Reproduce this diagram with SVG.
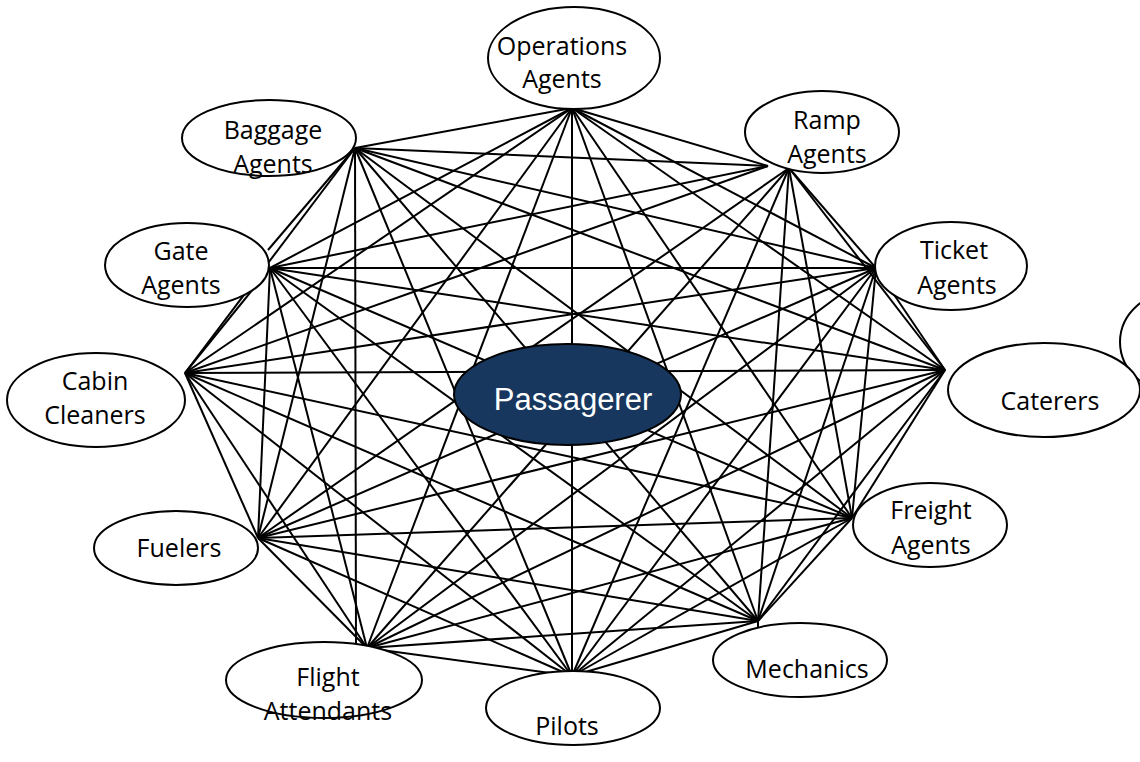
<svg xmlns="http://www.w3.org/2000/svg" width="1140" height="762" viewBox="0 0 1140 762">
<style>
.c line{stroke:#000;stroke-width:2;fill:none}
.n ellipse{fill:#fff;stroke:#000;stroke-width:2}
.n text{font-family:"Open Sans","Liberation Sans",sans-serif;font-size:25px;fill:#000;text-anchor:middle}
#passagerer ellipse{fill:#17375e;stroke:#000;stroke-width:2}
#passagerer text{font-family:"Liberation Sans",Arial,sans-serif;font-size:31px;fill:#fff;text-anchor:middle}
</style>
<rect width="1140" height="762" fill="#fff"/>
<g id="connectors" class="c">
<line x1="572" y1="108" x2="768" y2="166"/>
<line x1="572" y1="108" x2="876" y2="268"/>
<line x1="572" y1="108" x2="945" y2="370"/>
<line x1="572" y1="108" x2="852" y2="518"/>
<line x1="572" y1="108" x2="758" y2="621"/>
<line x1="572" y1="108" x2="572" y2="676"/>
<line x1="572" y1="108" x2="367" y2="648"/>
<line x1="572" y1="108" x2="258" y2="538"/>
<line x1="572" y1="108" x2="185" y2="373"/>
<line x1="572" y1="108" x2="270" y2="268"/>
<line x1="572" y1="108" x2="355" y2="148"/>
<line x1="789" y1="168" x2="876" y2="268"/>
<line x1="789" y1="168" x2="945" y2="370"/>
<line x1="789" y1="168" x2="852" y2="518"/>
<line x1="789" y1="168" x2="758" y2="621"/>
<line x1="789" y1="168" x2="572" y2="676"/>
<line x1="789" y1="168" x2="367" y2="648"/>
<line x1="789" y1="168" x2="258" y2="538"/>
<line x1="768" y1="166" x2="185" y2="373"/>
<line x1="768" y1="166" x2="270" y2="268"/>
<line x1="768" y1="166" x2="355" y2="148"/>
<line x1="876" y1="268" x2="945" y2="370"/>
<line x1="876" y1="268" x2="852" y2="518"/>
<line x1="876" y1="268" x2="758" y2="621"/>
<line x1="876" y1="268" x2="572" y2="676"/>
<line x1="876" y1="268" x2="367" y2="648"/>
<line x1="876" y1="268" x2="258" y2="538"/>
<line x1="876" y1="268" x2="185" y2="373"/>
<line x1="876" y1="268" x2="270" y2="268"/>
<line x1="876" y1="268" x2="355" y2="148"/>
<line x1="945" y1="370" x2="852" y2="518"/>
<line x1="945" y1="370" x2="758" y2="621"/>
<line x1="945" y1="370" x2="572" y2="676"/>
<line x1="945" y1="370" x2="367" y2="648"/>
<line x1="945" y1="370" x2="258" y2="538"/>
<line x1="945" y1="370" x2="185" y2="373"/>
<line x1="945" y1="370" x2="270" y2="268"/>
<line x1="945" y1="370" x2="355" y2="148"/>
<line x1="852" y1="518" x2="758" y2="621"/>
<line x1="852" y1="518" x2="572" y2="676"/>
<line x1="852" y1="518" x2="367" y2="648"/>
<line x1="852" y1="518" x2="258" y2="538"/>
<line x1="852" y1="518" x2="185" y2="373"/>
<line x1="852" y1="518" x2="270" y2="268"/>
<line x1="852" y1="518" x2="355" y2="148"/>
<line x1="758" y1="621" x2="572" y2="676"/>
<line x1="758" y1="621" x2="367" y2="648"/>
<line x1="758" y1="621" x2="258" y2="538"/>
<line x1="758" y1="621" x2="185" y2="373"/>
<line x1="758" y1="621" x2="270" y2="268"/>
<line x1="758" y1="621" x2="355" y2="148"/>
<line x1="758" y1="621" x2="758" y2="632"/>
<line x1="572" y1="676" x2="367" y2="648"/>
<line x1="572" y1="676" x2="258" y2="538"/>
<line x1="572" y1="676" x2="185" y2="373"/>
<line x1="572" y1="676" x2="270" y2="268"/>
<line x1="572" y1="676" x2="355" y2="148"/>
<line x1="367" y1="648" x2="258" y2="538"/>
<line x1="367" y1="648" x2="185" y2="373"/>
<line x1="367" y1="648" x2="270" y2="268"/>
<line x1="356" y1="650" x2="355" y2="148"/>
<line x1="356" y1="650" x2="367" y2="648"/>
<line x1="258" y1="538" x2="185" y2="373"/>
<line x1="258" y1="538" x2="270" y2="268"/>
<line x1="258" y1="538" x2="355" y2="148"/>
<line x1="185" y1="373" x2="270" y2="268"/>
<line x1="185" y1="373" x2="355" y2="148"/>
<line x1="268" y1="250" x2="355" y2="148"/>
</g>
<g id="offpage" class="n"><ellipse cx="1180" cy="342" rx="60" ry="52"/></g>
<g id="operations-agents" class="n"><ellipse cx="574" cy="58" rx="86" ry="51"/><text x="562" y="55">Operations</text><text x="562" y="88">Agents</text></g>
<g id="baggage-agents" class="n"><ellipse cx="269" cy="138" rx="87" ry="38"/><text x="273" y="139">Baggage</text><text x="273" y="173">Agents</text></g>
<g id="ramp-agents" class="n"><ellipse cx="822" cy="132" rx="77" ry="41"/><text x="827" y="129">Ramp</text><text x="827" y="163">Agents</text></g>
<g id="ticket-agents" class="n"><ellipse cx="951" cy="266" rx="76" ry="44"/><text x="954" y="259">Ticket</text><text x="957" y="294">Agents</text></g>
<g id="caterers" class="n"><ellipse cx="1044" cy="390" rx="96" ry="47"/><text x="1050" y="410">Caterers</text></g>
<g id="freight-agents" class="n"><ellipse cx="930" cy="525" rx="77" ry="42"/><text x="931" y="519">Freight</text><text x="931" y="554">Agents</text></g>
<g id="mechanics" class="n"><ellipse cx="800" cy="660" rx="87" ry="37"/><text x="807" y="678">Mechanics</text></g>
<g id="pilots" class="n"><ellipse cx="573" cy="708" rx="87" ry="37"/><text x="567" y="735">Pilots</text></g>
<g id="flight-attendants" class="n"><ellipse cx="324" cy="680" rx="98" ry="38"/><text x="328" y="686">Flight</text><text x="328" y="720">Attendants</text></g>
<g id="fuelers" class="n"><ellipse cx="176" cy="548" rx="82" ry="37"/><text x="179" y="557">Fuelers</text></g>
<g id="cabin-cleaners" class="n"><ellipse cx="96" cy="400" rx="89" ry="47"/><text x="95" y="390">Cabin</text><text x="95" y="424">Cleaners</text></g>
<g id="gate-agents" class="n"><ellipse cx="187" cy="265" rx="82" ry="42"/><text x="181" y="260">Gate</text><text x="181" y="294">Agents</text></g>
<g id="passagerer"><ellipse cx="567.5" cy="394.5" rx="113.5" ry="50.5"/><text x="573" y="410">Passagerer</text></g>
</svg>
